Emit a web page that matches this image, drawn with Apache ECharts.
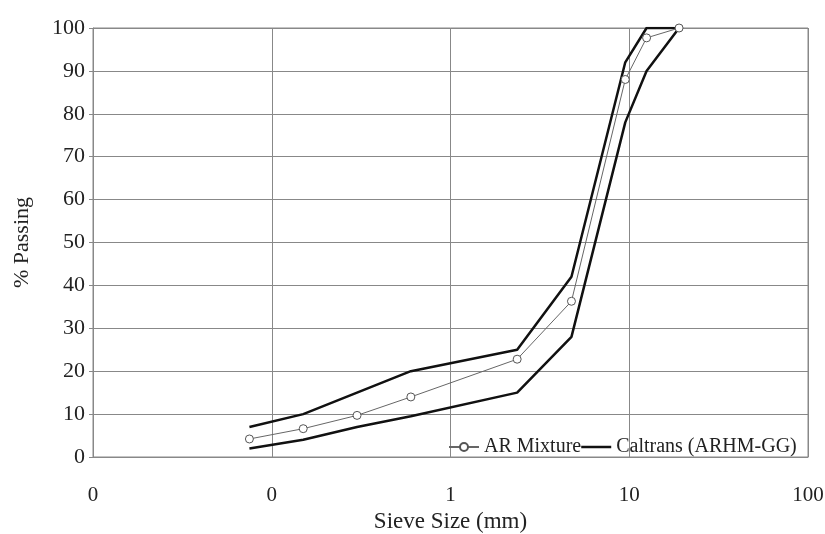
<!DOCTYPE html>
<html>
<head>
<meta charset="utf-8">
<script src="https://cdn.jsdelivr.net/npm/echarts@6/dist/echarts.min.js"></script>
<style>
html,body{margin:0;padding:0;background:#fff;}
#chart{width:825px;height:534px;}
</style>
</head>
<body>
<div id="chart"></div>
<script>
// Sieve sizes (mm)
const sieveSizes = [0.075, 0.15, 0.3, 0.6, 2.36, 4.75, 9.5, 12.5, 19];
// AR Mixture % passing
const arMixture = [4.2, 6.6, 9.7, 14, 22.8, 36.3, 88, 97.7, 100];
// Caltrans (ARHM-GG) upper and lower limits
const caltransUpper = [7, 10, 15, 20, 25, 42, 92, 100, 100];
const caltransLower = [2, 4, 7, 9.5, 15, 28, 78, 90, 100];
// Axis ticks
const xTicks = [0.01, 0.1, 1, 10, 100];
const yTicks = [0, 10, 20, 30, 40, 50, 60, 70, 80, 90, 100];

const pairs = (xs, ys) => xs.map((x, i) => [x, ys[i]]);
const FONT = 'Liberation Serif';
const chart = echarts.init(document.getElementById('chart'));
chart.setOption({
  animation: false,
  backgroundColor: '#fff',
  grid: {left: 93, right: 17, top: 28, bottom: 77, show: true, borderColor: '#888', borderWidth: 1,
    containLabel: false, outerBoundsMode: 'none'},
  legend: {
    orient: 'horizontal',
    left: 443, top: 432, width: 420,
    itemWidth: 30, itemHeight: 10, itemGap: 0,
    textStyle: {fontFamily: FONT, fontSize: 20, color: '#222'},
    data: [
      {name: 'AR Mixture'},
      {name: 'Caltrans (ARHM-GG)', icon: 'path://M0,0L30,0L30,2.5L0,2.5Z'}
    ]
  },
  xAxis: {
    type: 'log', logBase: 10, min: xTicks[0], max: xTicks[xTicks.length - 1],
    name: 'Sieve Size (mm)', nameLocation: 'middle', nameGap: 52,
    nameTextStyle: {fontFamily: FONT, fontSize: 23, color: '#222'},
    axisLine: {lineStyle: {color: '#888'}},
    axisTick: {show: false},
    axisLabel: {fontFamily: FONT, fontSize: 21, color: '#222', margin: 28,
      formatter: v => String(Math.round(v))},
    splitLine: {show: true, lineStyle: {color: '#888', width: 1}},
    minorSplitLine: {show: false}
  },
  yAxis: {
    type: 'value', min: yTicks[0], max: yTicks[yTicks.length - 1], interval: 10,
    name: '% Passing', nameLocation: 'middle', nameGap: 60,
    nameTextStyle: {fontFamily: FONT, fontSize: 22, color: '#222'},
    axisLine: {show: true, lineStyle: {color: '#888'}},
    axisTick: {show: true, length: 4, inside: false, lineStyle: {color: '#888'}},
    axisLabel: {fontFamily: FONT, fontSize: 22, color: '#222', margin: 8},
    splitLine: {show: true, lineStyle: {color: '#888', width: 1}}
  },
  series: [
    {
      name: 'AR Mixture', type: 'line', data: pairs(sieveSizes, arMixture),
      symbol: 'circle', symbolSize: 8, showAllSymbol: true,
      lineStyle: {color: '#666', width: 1},
      itemStyle: {color: '#fff', borderColor: '#555', borderWidth: 1},
      z: 3
    },
    {
      name: 'Caltrans (ARHM-GG)', type: 'line', data: pairs(sieveSizes, caltransUpper),
      symbol: 'none', lineStyle: {color: '#111', width: 2.5}, itemStyle: {color: '#111'}, z: 2
    },
    {
      name: 'Caltrans (ARHM-GG)', type: 'line', data: pairs(sieveSizes, caltransLower),
      symbol: 'none', lineStyle: {color: '#111', width: 2.5}, itemStyle: {color: '#111'}, z: 2
    }
  ]
});
</script>
</body>
</html>
